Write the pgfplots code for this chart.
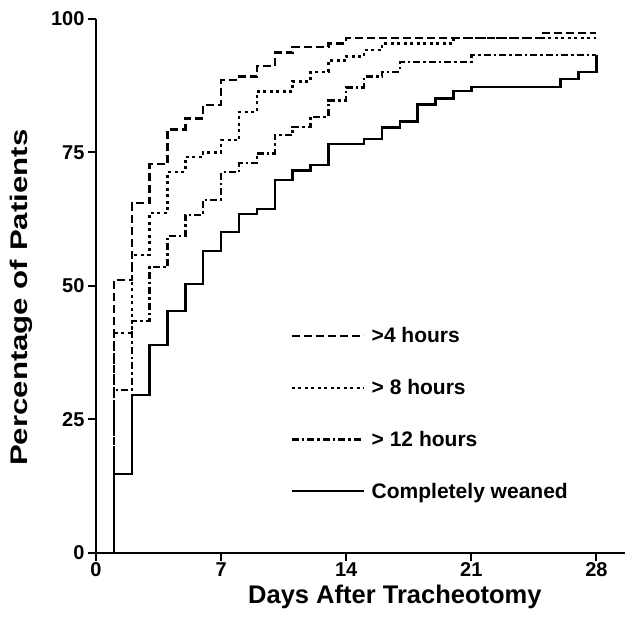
\documentclass[border=0pt]{standalone}
\usepackage{fontspec}
\setmainfont{Liberation Sans}
\usepackage{graphicx}
\usepackage{pgfplots}
\pgfplotsset{compat=1.18}

\begin{document}
\begin{tikzpicture}
\begin{axis}[
  scale only axis,
  width=529pt, height=534pt,
  xmin=0, xmax=29.6, ymin=0, ymax=100,
  axis lines=left,
  axis line style={line width=2.2pt,-},
  xtick={0,7,14,21,28}, ytick={0,25,50,75,100},
  tick align=outside, major tick length=8pt,
  tick style={line width=2pt,black},
  /pgf/number format/assume math mode=true,
  ticklabel style={font=\fontsize{20}{24}\selectfont\bfseries},
  xticklabel style={inner sep=0pt, yshift=-1.5pt},
  xlabel={Days After Tracheotomy},
  ylabel={\scalebox{1.3}[1]{Percentage of Patients}},
  xlabel style={font=\fontsize{25.5}{30}\selectfont\bfseries, inner sep=0pt,
    at={(axis description cs:0.565,-0.083)}, anchor=center},
  ylabel style={font=\fontsize{24}{28}\selectfont\bfseries, at={(axis description cs:-0.142,0.478)}, anchor=center},
  legend style={draw=none, fill=none, at={(axis description cs:0.367,0.426)}, anchor=north west,
    font=\fontsize{21}{25}\selectfont\bfseries, row sep=31pt, inner sep=0pt,
    /tikz/every odd column/.append style={column sep=5pt}},
  legend cell align=left,
  legend image code/.code={\draw[#1] (0pt,0pt) -- (72pt,0pt);},
  every axis plot/.append style={line width=2.4pt, black, const plot},
]
% >4 hours
\addplot[dash pattern=on 8pt off 4pt] coordinates {
 (1,0) (1,51.1) (2,65.5) (3,72.8) (4,79.3) (5,81.4) (6,83.9) (7,88.6) (8,89.2)
 (9,91.2) (10,93.7) (11,94.7) (13,95.4) (14,96.4) (25,97.4) (28,97.4)};
% >8 hours
\addplot[dash pattern=on 3pt off 3.5pt] coordinates {
 (1,0) (1,41.2) (2,55.8) (3,63.7) (4,71.4) (5,74.2) (6,75.0) (7,77.3) (8,82.6)
 (9,86.4) (11,88.3) (12,90.1) (13,92.2) (14,93.0) (15,94.2) (16,95.4) (20,96.4) (28,96.4)};
% >12 hours
\addplot[dash pattern=on 7pt off 3pt on 2.5pt off 3pt] coordinates {
 (1,0) (1,30.5) (2,43.4) (3,53.6) (4,59.4) (5,63.3) (6,66.1) (7,71.3) (8,73.0)
 (9,74.8) (10,78.3) (11,79.8) (12,81.7) (13,84.7) (14,87.2) (15,89.2) (16,90.1)
 (17,92.0) (21,93.3) (28,93.3)};
% completely weaned
\addplot[solid] coordinates {
 (1,0) (1,14.8) (2,29.6) (3,39.0) (4,45.3) (5,50.4) (6,56.6) (7,60.1) (8,63.5)
 (9,64.4) (10,69.8) (11,71.6) (12,72.7) (13,76.6) (15,77.5) (16,79.7) (17,80.8)
 (18,84.0) (19,85.1) (20,86.5) (21,87.3) (26,88.8) (27,90.1) (28,93.3)};
\legend{>4 hours, > 8 hours, > 12 hours, Completely weaned}
\coordinate (O) at (axis cs:0,0);
\end{axis}
\pgfresetboundingbox
\path ([shift={(-96pt,-65pt)}]O) rectangle ([shift={(529pt,553pt)}]O);
\end{tikzpicture}
\end{document}
